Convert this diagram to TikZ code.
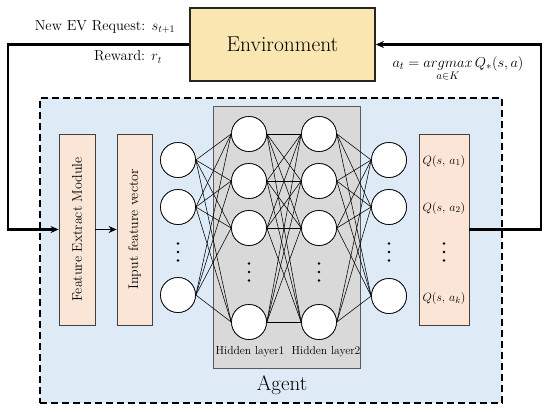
\documentclass[tikz,border=0pt]{standalone}
\usepackage{amsmath}
\usetikzlibrary{arrows.meta,calc}
\definecolor{envfill}{HTML}{FAE6B0}
\definecolor{agentfill}{HTML}{DEEBF7}
\definecolor{orfill}{HTML}{FBE5D6}
\definecolor{grayfill}{HTML}{D9D9D9}
\definecolor{grayedge}{HTML}{595959}
\tikzset{
  neuron/.style={circle, draw=black, fill=white, line width=0.7pt, minimum size=35pt, inner sep=0pt},
  link/.style={line width=0.55pt, black},
  orbox/.style={draw=black!75, fill=orfill, line width=0.8pt, inner sep=0pt, minimum height=191pt},
  loopline/.style={line width=2.2pt, line join=miter},
  tip/.style={-{Stealth[length=8pt,width=7pt]}},
  vlabel/.style={rotate=90, font=\fontsize{14}{16}\selectfont},
  qlabel/.style={font=\fontsize{13}{15}\selectfont},
  hlabel/.style={font=\fontsize{11.6}{14}\selectfont},
  dotmark/.style={fill=black}
}
\begin{document}
\begin{tikzpicture}[x=1pt,y=-1pt]
\useasboundingbox (0,0) rectangle (550,413);

% Agent box
\node[draw=black, dash pattern=on 7pt off 4pt, line width=2pt, fill=agentfill,
      minimum width=462pt, minimum height=305pt, inner sep=0pt] (agentbox) at (271,250.5) {};
% Gray hidden box
\node[draw=grayedge, fill=grayfill, line width=1pt, minimum width=147pt, minimum height=262pt, inner sep=0pt] (graybox) at (286.5,237) {};

% Environment
\node[draw=black!85, fill=envfill, line width=1.8pt, minimum width=185pt, minimum height=73pt, inner sep=0pt,
      font=\fontsize{21.5}{24}\selectfont] (env) at (282.5,44.5) {Environment};

% Side boxes
\node[orbox, minimum width=36pt] (fem) at (77,229.5) {};
\node[vlabel] (femtxt) at (fem) {Feature Extract Module};
\node[orbox, minimum width=35pt] (ifv) at (134.5,229.5) {};
\node[vlabel] (ifvtxt) at (ifv) {Input feature vector};
\node[orbox, minimum width=50pt] (qbox) at (444,229.5) {};

% Neurons
\foreach \n/\y in {1/160,2/207,3/295} \node[neuron] (i\n) at (178,\y) {};
\foreach \n/\y in {1/134,2/181,3/228,4/322} \node[neuron] (h\n) at (249,\y) {};
\foreach \n/\y in {1/134,2/181,3/228,4/322} \node[neuron] (g\n) at (319,\y) {};
\foreach \n/\y in {1/160,2/207,3/296} \node[neuron] (o\n) at (389,\y) {};

% Links
\foreach \a in {1,2,3} \foreach \b in {1,2,3,4} \draw[link] (i\a.east) -- (h\b.west);
\foreach \a in {1,2,3,4} \foreach \b in {1,2,3,4} \draw[link] (h\a.east) -- (g\b.west);
\foreach \a in {1,2,3,4} \foreach \b in {1,2,3} \draw[link] (g\a.east) -- (o\b.west);

% redraw neurons on top of links
\foreach \n in {1,2,3} \node[neuron] at (i\n) {};
\foreach \n in {1,2,3,4} \node[neuron] at (h\n) {};
\foreach \n in {1,2,3,4} \node[neuron] at (g\n) {};
\foreach \n in {1,2,3} \node[neuron] at (o\n) {};

% Dots
\foreach \x in {178,389,444} \foreach \y in {243.5,252,260.5} \fill[dotmark] (\x,\y) circle (1.3pt);
\foreach \x in {249,319} \foreach \y in {263.5,272,280.5} \fill[dotmark] (\x,\y) circle (1.3pt);

% Q labels
\node[qlabel] (q1) at (444,161) {$Q(s,\,a_1)$};
\node[qlabel] (q2) at (444,208) {$Q(s,\,a_2)$};
\node[qlabel] (qk) at (444,298) {$Q(s,\,a_k)$};

% Layer labels
\node[hlabel] (hl1) at (250,352) {Hidden layer1};
\node[hlabel] (hl2) at (326,352) {Hidden layer2};
\node[font=\fontsize{21}{24}\selectfont] (agentlbl) at (282,385) {Agent};

% Loops
\coordinate (lcorner) at (8,229.5);
\coordinate (rcorner) at (541,44.5);
\draw[loopline, tip] (env.west) -| (lcorner) -- (fem.west);
\draw[loopline, tip] (qbox.east) -| (rcorner) -- (env.east);
\draw[line width=1.8pt, tip] (fem.east) -- (ifv.west);

% Loop labels
\node[font=\fontsize{14.5}{16}\selectfont] (newev) at (105,27) {New EV Request: $s_{t+1}$};
\node[font=\fontsize{14.5}{16}\selectfont] (reward) at (128,57) {Reward: $r_t$};
\node[font=\fontsize{15}{17}\selectfont] (action) at (458,69) {$a_t = \mathop{argmax}\limits_{a\in K} Q_*(s,a)$};
\end{tikzpicture}
\end{document}
